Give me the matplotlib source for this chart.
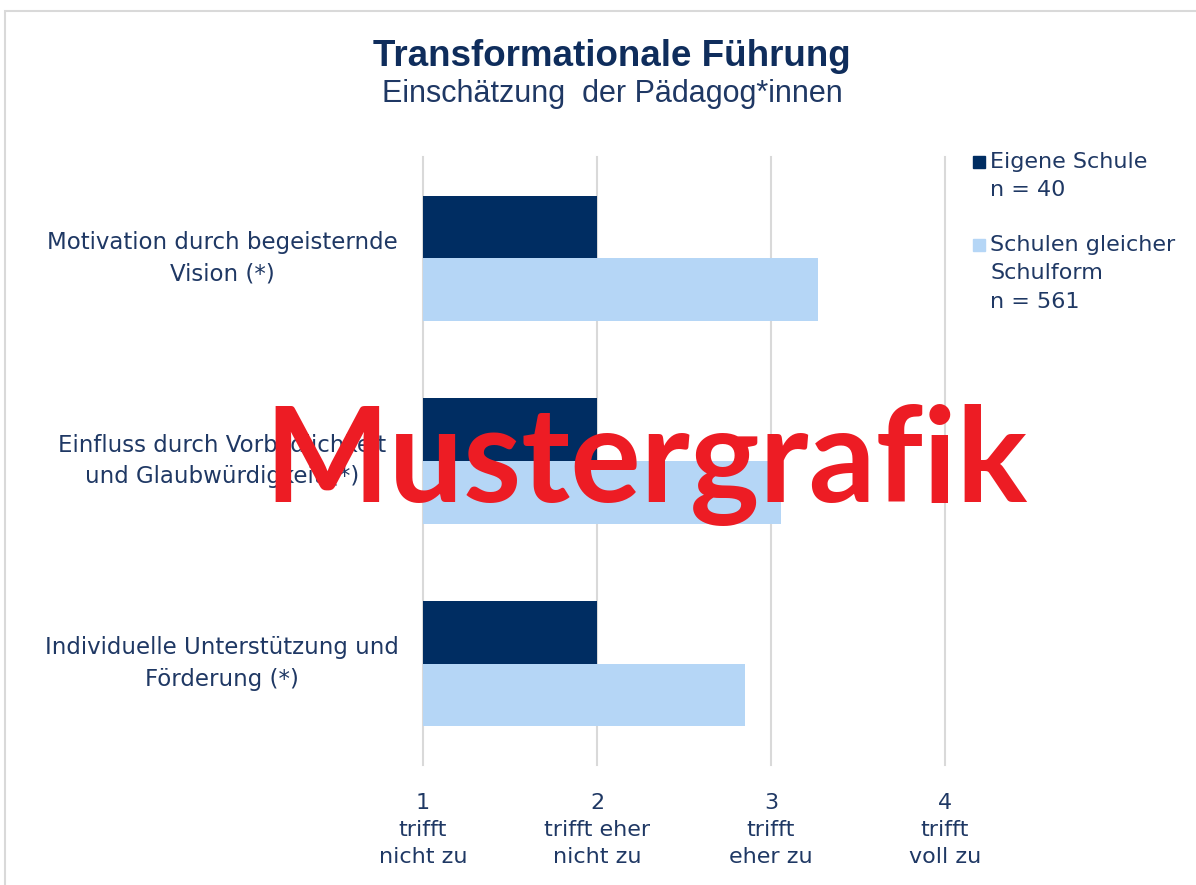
import matplotlib
matplotlib.use("Agg")
import matplotlib.pyplot as plt
import matplotlib.transforms as mtransforms
from matplotlib.patches import Rectangle
import numpy as np

# data
categories = [
    "Motivation durch begeisternde\nVision (*)",
    "Einfluss durch Vorbildlichkeit\nund Glaubwürdigkeit (*)",
    "Individuelle Unterstützung und\nFörderung (*)",
]
eigene_schule = [2.0, 2.0, 2.0]
gleiche_schulform = [3.27, 3.06, 2.85]
series_labels = ["Eigene Schule\nn = 40", "Schulen gleicher\nSchulform\nn = 561"]
x_ticks = [1, 2, 3, 4]
x_tick_labels = ["1\ntrifft\nnicht zu", "2\ntrifft eher\nnicht zu", "3\ntrifft\neher zu", "4\ntrifft\nvoll zu"]

DARK = "#002d62"
LIGHT = "#b5d6f6"
TEXT = "#1f3864"
GRID = "#d9d9d9"

W, H = 1196, 885
fig = plt.figure(figsize=(W / 100, H / 100), dpi=100)
fig.patch.set_facecolor("white")

# outer frame (only top and left edge visible)
fig.add_artist(Rectangle((4.5 / W, -0.1), 1.2, 1 - 10.5 / H + 0.1, transform=fig.transFigure,
                         fill=False, edgecolor=GRID, lw=1.5))

ax = fig.add_axes([423 / W, 1 - 765 / H, (945 - 423) / W, (765 - 157) / H])
y = np.arange(len(categories))
h = 0.31
ax.barh(y - h / 2, np.array(eigene_schule) - 1, height=h, left=1, color=DARK, zorder=3)
ax.barh(y + h / 2, np.array(gleiche_schulform) - 1, height=h, left=1, color=LIGHT, zorder=3)

ax.set_xlim(1, 4)
ax.set_ylim(len(categories) - 0.5, -0.5)
for s in ax.spines.values():
    s.set_visible(False)
ax.set_xticks(x_ticks)
ax.set_xticklabels(x_tick_labels, fontsize=16, color=TEXT, linespacing=1.45, family="DejaVu Sans")
ax.tick_params(axis="x", length=0, pad=20)
ax.set_yticks([])
ax.grid(axis="x", color=GRID, lw=1.5, zorder=0)
ax.set_axisbelow(True)
for gl in ax.get_xgridlines():
    gl.set_clip_on(False)

# category labels, centred in the left margin
trans = mtransforms.blended_transform_factory(fig.transFigure, ax.transData)
for i, lab in enumerate(categories):
    ax.text(222 / W, i, lab, transform=trans, ha="center", va="center", fontsize=16.5,
            color=TEXT, linespacing=1.5, family="DejaVu Sans")

# title
fig.text(612 / W, 1 - 66 / H, "Transformationale Führung", ha="center", va="baseline",
         fontsize=26.5, fontweight="bold", color="#0f2d5c", family=["Liberation Sans", "DejaVu Sans"])
fig.text(612 / W, 1 - 102 / H, "Einschätzung  der Pädagog*innen", ha="center", va="baseline",
         fontsize=22, color=TEXT, family=["Liberation Sans", "DejaVu Sans"])

# legend drawn by hand
leg_y = [152, 235]
for lab, col, ty in zip(series_labels, [DARK, LIGHT], leg_y):
    fig.add_artist(Rectangle((973 / W, 1 - (ty + 16) / H), 12 / W, 12 / H,
                             transform=fig.transFigure, color=col))
    fig.text(990 / W, 1 - ty / H, lab, ha="left", va="top", fontsize=16, color=TEXT,
             linespacing=1.52, family="DejaVu Sans")

# watermark
fig.text(646 / W, 1 - 502 / H, "Mustergrafik", ha="center", va="baseline", fontsize=95,
         fontweight="bold", color="#ed1c24", family=["Lato", "Open Sans", "DejaVu Sans"], zorder=10)

fig.savefig("out.png", dpi=100)
